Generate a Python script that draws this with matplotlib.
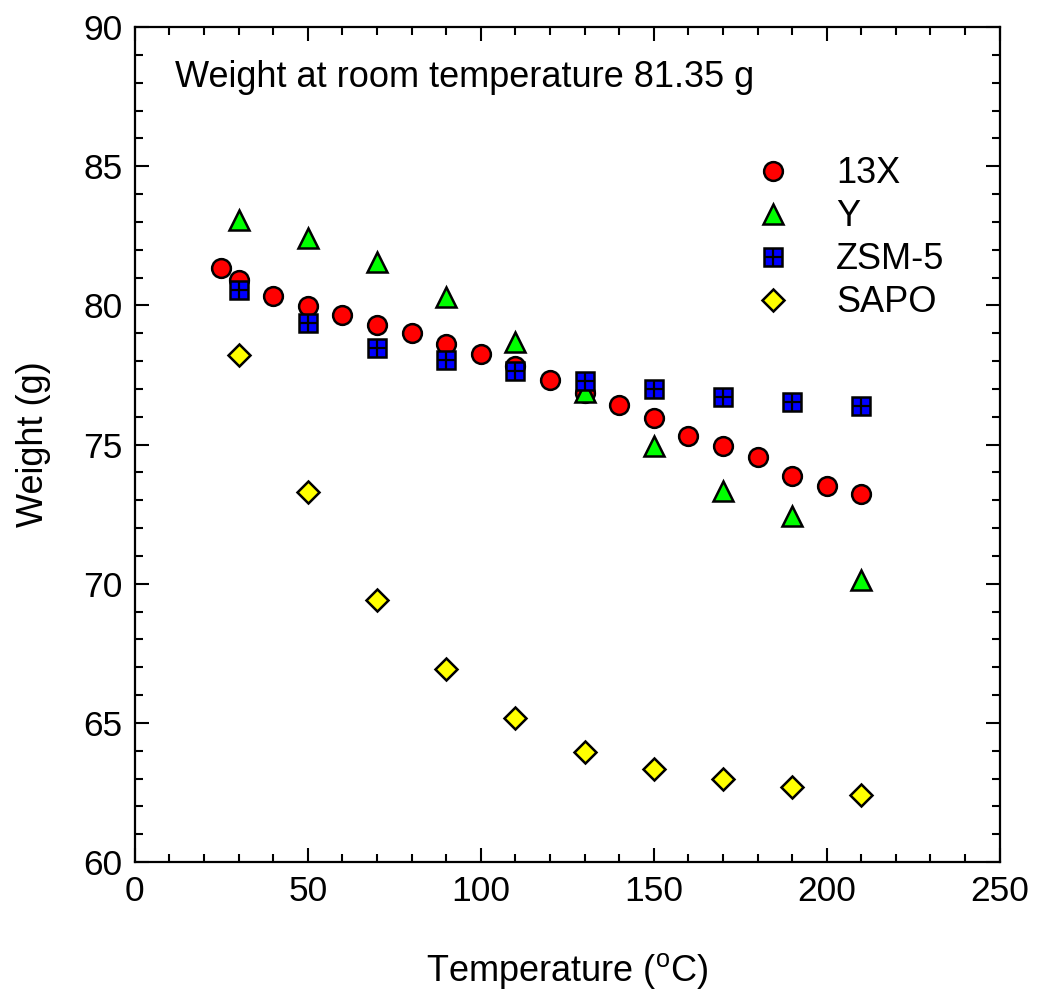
import matplotlib
matplotlib.use("Agg")
import matplotlib.pyplot as plt
from matplotlib.ticker import MultipleLocator

plt.rcParams['font.family'] = ['Liberation Sans', 'DejaVu Sans']
plt.rcParams['mathtext.fontset'] = 'custom'
plt.rcParams['mathtext.rm'] = 'Liberation Sans'
plt.rcParams['mathtext.default'] = 'regular'

# Data
t_13x = [25, 30, 40, 50, 60, 70, 80, 90, 100, 110, 120, 130, 140, 150, 160, 170, 180, 190, 200, 210]
w_13x = [81.35, 80.91, 80.33, 79.97, 79.65, 79.29, 79.0, 78.61, 78.25, 77.82, 77.32, 76.85, 76.42,
         75.95, 75.30, 74.94, 74.55, 73.87, 73.51, 73.22]
t_y = [30, 50, 70, 90, 110, 130, 150, 170, 190, 210]
w_y = [83.07, 82.42, 81.56, 80.30, 78.68, 76.90, 74.94, 73.33, 72.43, 70.13]
t_zsm = [30, 50, 70, 90, 110, 130, 150, 170, 190, 210]
w_zsm = [80.55, 79.36, 78.47, 78.03, 77.64, 77.28, 76.99, 76.70, 76.53, 76.38]
t_sapo = [30, 50, 70, 90, 110, 130, 150, 170, 190, 210]
w_sapo = [78.21, 73.29, 69.41, 66.93, 65.17, 63.95, 63.34, 62.98, 62.69, 62.40]

fig = plt.figure(figsize=(10.37, 9.89), dpi=100)
ax = fig.add_axes([0.130, 0.1284, 0.834, 0.8443])

mew = 1.8
h1, = ax.plot(t_13x, w_13x, ls='none', marker='o', ms=13.5, mfc='#ff0000', mec='black', mew=mew, zorder=3)
h2, = ax.plot(t_y, w_y, ls='none', marker='^', ms=14.5, mfc='#00ff00', mec='black', mew=mew, zorder=4)
h3a, = ax.plot(t_zsm, w_zsm, ls='none', marker='s', ms=12.5, mfc='#0000ff', mec='black', mew=mew, zorder=5)
h3b, = ax.plot(t_zsm, w_zsm, ls='none', marker='+', ms=12.5, mec='black', mew=1.6, zorder=6)
h4, = ax.plot(t_sapo, w_sapo, ls='none', marker='D', ms=11.5, mfc='#ffff00', mec='black', mew=mew, zorder=3)

ax.set_xlim(0, 250)
ax.set_ylim(60, 90)
ax.xaxis.set_major_locator(MultipleLocator(50))
ax.xaxis.set_minor_locator(MultipleLocator(10))
ax.yaxis.set_major_locator(MultipleLocator(5))
ax.yaxis.set_minor_locator(MultipleLocator(1))
ax.tick_params(which='both', direction='in', top=True, right=True, width=1.5, labelsize=25.5, pad=9)
ax.tick_params(which='major', length=10)
ax.tick_params(which='minor', length=6)
for s in ax.spines.values():
    s.set_linewidth(1.6)

ax.set_xlabel('Temperature ($^{o}$C)', fontsize=26, labelpad=31)
ax.set_ylabel('Weight (g)', fontsize=26, labelpad=23)

ax.text(0.046, 0.939, 'Weight at room temperature 81.35 g', transform=ax.transAxes,
        fontsize=26, ha='left', va='center')

ax.legend([h1, h2, (h3a, h3b), h4], ['13X', 'Y', 'ZSM-5', 'SAPO'],
          loc='upper left', bbox_to_anchor=(0.673, 0.884), frameon=False,
          fontsize=26, labelspacing=0.22, handletextpad=1.1, handlelength=1.3)

fig.savefig('out.png', dpi=100)
